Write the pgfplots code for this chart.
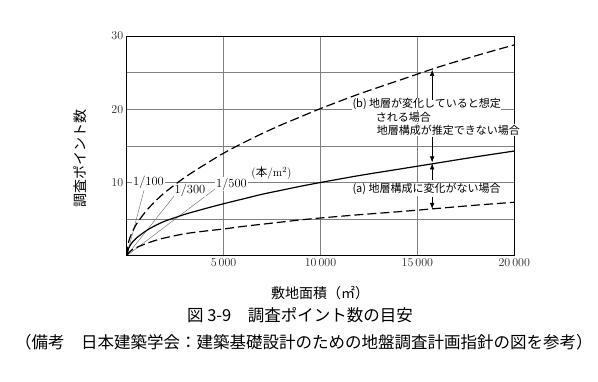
\documentclass[border=0pt]{standalone}
\usepackage{fontspec}
\usepackage{pgfplots}
\pgfplotsset{compat=1.18}
\usetikzlibrary{arrows.meta}
\newfontfamily\jp{Noto Sans CJK JP}
\begin{document}
\begin{tikzpicture}
\path[use as bounding box] (0pt,0pt) rectangle (598pt,382pt);
\begin{axis}[
  at={(126.7pt,126.3pt)}, anchor=south west,
  scale only axis, width=387.6pt, height=219.6pt,
  xmin=0, xmax=20000, ymin=0, ymax=30,
  xtick={5000,10000,15000,20000},
  ytick={10,20,30},
  minor ytick={5,15,25},
  grid=both,
  major grid style={black!50, line width=0.45pt},
  minor grid style={black!50, line width=0.45pt},
  major tick length=0pt, minor tick length=0pt,
  axis line style={line width=0.8pt},
  scaled x ticks=false,
  xticklabel style={/pgf/number format/1000 sep={\,}, font=\fontsize{12.5}{14}\selectfont, black!85},
  yticklabel style={font=\fontsize{12.5}{14}\selectfont, black!85},
  clip=false,
]
% guide rays
\addplot[black!60, line width=0.4pt] coordinates {(0,0) (900,9.0)};
\addplot[black!60, line width=0.4pt] coordinates {(0,0) (2450,8.17)};
\addplot[black!60, line width=0.4pt] coordinates {(0,0) (4600,9.2)};
% labels
\node[fill=white, inner sep=0.8pt, font=\fontsize{12.5}{14}\selectfont] at (axis cs:1125,10.0) {1/100};
\node[fill=white, inner sep=0.8pt, font=\fontsize{12.5}{14}\selectfont] at (axis cs:3266,8.97) {1/300};
\node[fill=white, inner sep=0.8pt, font=\fontsize{12.5}{14}\selectfont] at (axis cs:5408,9.8) {1/500};
\node[inner sep=0pt, font=\fontsize{11.5}{13}\selectfont] at (axis cs:7471,11.23) {({\jp 本}/m$^{2}$)};
% (b) text
\node[anchor=west, fill=white, inner sep=0.6pt, font=\jp\fontsize{11}{13}\selectfont] at (axis cs:11610,20.72) {(b) 地層が変化していると想定};
\node[anchor=west, fill=white, inner sep=0.6pt, font=\jp\fontsize{11}{13}\selectfont] at (axis cs:12812,18.9) {される場合};
\node[anchor=west, fill=white, inner sep=0.6pt, font=\jp\fontsize{11}{13}\selectfont] at (axis cs:12864,17.17) {地層構成が推定できない場合};
\node[anchor=west, fill=white, inner sep=0.6pt, font=\jp\fontsize{11}{13}\selectfont] at (axis cs:11610,9.07) {(a) 地層構成に変化がない場合};
% curves
\addplot[black, line width=1.2pt, dash pattern=on 9pt off 4pt, smooth] coordinates {
(0,0) (100,1.9) (250,3.0) (500,4.3) (1000,6.1) (1500,7.5) (2000,8.7) (3000,10.7) (4000,12.4) (5000,14.0) (6000,15.4) (7000,16.7) (8000,17.9) (9000,19.0) (10000,20.1) (12000,22.1) (14000,23.9) (16000,25.7) (18000,27.3) (20000,28.8)};
\addplot[black, line width=1.2pt, smooth] coordinates {
(0,0) (100,1.0) (250,1.7) (500,2.4) (1000,3.4) (1500,4.15) (2000,4.75) (2500,5.2) (3000,5.65) (4000,6.4) (5000,7.1) (6000,7.75) (7000,8.4) (8000,8.95) (9000,9.5) (10000,10.0) (12000,10.95) (14000,11.8) (16000,12.65) (18000,13.5) (20000,14.3)};
\addplot[black, line width=1.2pt, dash pattern=on 9pt off 4pt, smooth] coordinates {
(0,0) (100,0.4) (250,0.75) (500,1.1) (1000,1.65) (1500,2.1) (2000,2.45) (3000,3.0) (4000,3.35) (5000,3.65) (6000,4.0) (7000,4.3) (8000,4.6) (9000,4.9) (10000,5.15) (12000,5.6) (14000,6.0) (16000,6.45) (18000,6.9) (20000,7.3)};
% arrows
\draw[line width=0.5pt, -{Latex[length=6pt,width=4.5pt]}] (axis cs:15762,21.3) -- (axis cs:15762,25.4);
\draw[line width=0.5pt, -{Latex[length=6pt,width=4.5pt]}] (axis cs:15762,16.2) -- (axis cs:15762,12.75);
\draw[line width=0.5pt, -{Latex[length=6pt,width=4.5pt]}] (axis cs:15762,10.4) -- (axis cs:15762,12.6);
\draw[line width=0.5pt, -{Latex[length=6pt,width=4.5pt]}] (axis cs:15762,8.0) -- (axis cs:15762,6.4);
\end{axis}
\node[rotate=90, font=\jp\fontsize{14}{16}\selectfont] at (80pt,223.5pt) {調査ポイント数};
\node[font=\jp\fontsize{14}{16}\selectfont] at (320pt,88.5pt) {敷地面積（㎡）};
\node[font=\jp\fontsize{16.5}{18}\selectfont] at (300pt,67pt) {図 3-9　調査ポイント数の目安};
\node[font=\jp\fontsize{16.5}{18}\selectfont] at (304pt,40pt) {（備考　日本建築学会：建築基礎設計のための地盤調査計画指針の図を参考）};
\end{tikzpicture}
\end{document}
